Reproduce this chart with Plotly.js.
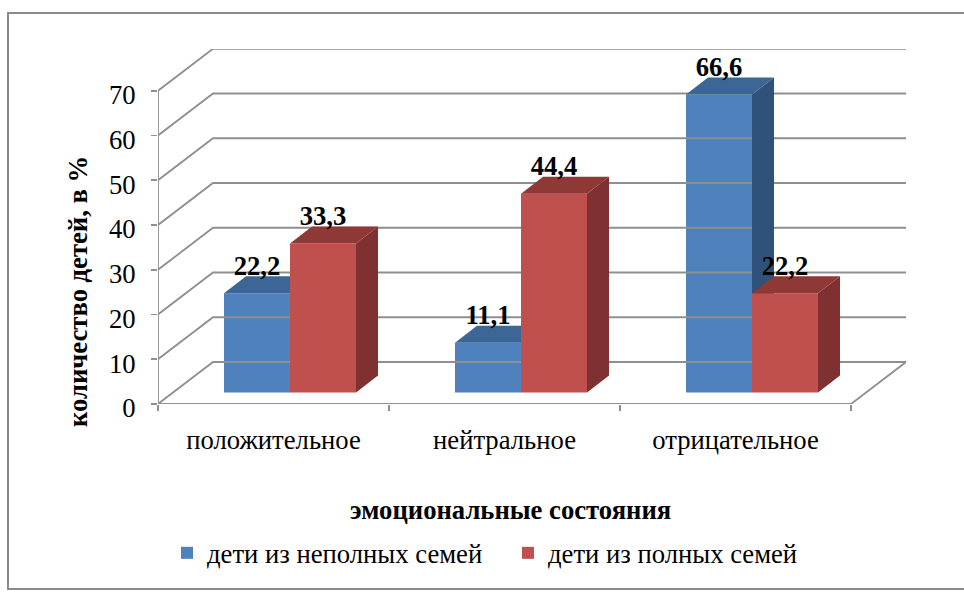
<!DOCTYPE html>
<html><head><meta charset="utf-8">
<script src="https://cdn.plot.ly/plotly-3.0.0.min.js"></script>
<style>html,body{margin:0;padding:0;background:#fff}</style>
</head><body><div id="chart" style="width:964px;height:592px"></div>
<script>
// data
const categories = ["положительное", "нейтральное", "отрицательное"];
const seriesNames = ["дети из неполных семей", "дети из полных семей"];
const incomplete = [22.2, 11.1, 66.6];
const complete = [33.3, 44.4, 22.2];
const yTicks = [0, 10, 20, 30, 40, 50, 60, 70];
const labelsA = ["22,2", "11,1", "66,6"];
const labelsB = ["33,3", "44,4", "22,2"];
const xTitle = "эмоциональные состояния";
const yTitle = "количество детей, в %";
const blue = {front:"#4f81bd", side:"#30527a", top:"#3b6696"};
const red = {front:"#c0504d", side:"#7e3130", top:"#8f3937"};
const gridColor = "#8f8f8f";

// pixel frame of the plot -> scales
const L=158, R=906, T=49, B=404;
const catPx=231, valPx=4.475;
const xMax=(R-L)/catPx, yMax=(B-T)/valPx;
const px=d=>d/catPx, py=d=>d/valPx;
const paperX=p=>(p-L)/(R-L), paperY=p=>(B-p)/(B-T);
// depth
const wallDX=px(55), wallDY=py(42);
const barOffX=px(66), barBase=py(11.5);
const barW=px(66), barDX=px(22), barDY=py(17);
const fontSize=26.67;

const traces=[];
const line=(x,y)=>({type:"scatter",mode:"lines",x,y,xaxis:"x",yaxis:"y",showlegend:false,hoverinfo:"skip",
  line:{color:gridColor,width:1.8},cliponaxis:false});
yTicks.forEach(t=>{
  traces.push(line([0,wallDX,xMax],[t,t+wallDY,t+wallDY]));
});
traces.push(line([0,0],[0,70]));
traces.push(line([0,categories.length,categories.length+wallDX],[0,0,wallDY]));

const xs=(j)=>categories.map((_,i)=>i+barOffX+j*barW+barW/2);
function faces(vals,j,c,xa,ya){
  vals.forEach((v,i)=>{
    const x0=i+barOffX+j*barW, x1=x0+barW, top=barBase+v;
    traces.push({type:"scatter",mode:"lines",fill:"toself",fillcolor:c.side,line:{width:0,color:c.side},showlegend:false,hoverinfo:"skip",xaxis:xa,yaxis:ya,
      x:[x1,x1+barDX,x1+barDX,x1,x1],y:[barBase,barBase+barDY,top+barDY,top,barBase]});
    traces.push({type:"scatter",mode:"lines",fill:"toself",fillcolor:c.top,line:{width:0,color:c.top},showlegend:false,hoverinfo:"skip",xaxis:xa,yaxis:ya,
      x:[x0,x1,x1+barDX,x0+barDX,x0],y:[top,top,top+barDY,top+barDY,top]});
  });
}
traces.push({type:"bar",name:seriesNames[0],x:xs(0),y:incomplete,base:barBase,width:barW,marker:{color:blue.front,line:{width:0}},xaxis:"x",yaxis:"y",hoverinfo:"y"});
faces(incomplete,0,blue,"x","y");
traces.push({type:"bar",name:seriesNames[1],x:xs(1),y:complete,base:barBase,width:barW,marker:{color:red.front,line:{width:0}},xaxis:"x2",yaxis:"y2",hoverinfo:"y"});
faces(complete,1,red,"x2","y2");
const lblY=(vals)=>vals.map(v=>barBase+v+py(25));
[[0,incomplete,labelsA],[1,complete,labelsB]].forEach(([j,vals,labs])=>{
  traces.push({type:"scatter",mode:"text",x:xs(j),y:lblY(vals),text:labs,textposition:"middle center",
    textfont:{family:"Liberation Serif",size:fontSize,color:"#000",weight:700},showlegend:false,hoverinfo:"skip",xaxis:"x2",yaxis:"y2",cliponaxis:false});
});

const layout={
  width:964,height:592,paper_bgcolor:"#fff",plot_bgcolor:"rgba(0,0,0,0)",
  margin:{l:L,r:964-R,t:T,b:592-B,pad:0},
  barmode:"overlay",
  font:{family:"Liberation Serif",color:"#000",size:fontSize},
  xaxis:{range:[0,xMax],tickmode:"array",tickvals:categories.map((_,i)=>i+0.5),ticktext:categories,ticks:"",showgrid:false,zeroline:false,showline:false,
    tickfont:{size:fontSize},fixedrange:true,ticklabelstandoff:17,
    minor:{tickmode:"linear",tick0:0,dtick:1,ticks:"outside",ticklen:6,tickwidth:1.8,tickcolor:gridColor,showgrid:false}},
  yaxis:{range:[0,yMax],tickmode:"array",tickvals:yTicks,ticks:"outside",ticklen:6,tickwidth:1.8,tickcolor:gridColor,showgrid:false,zeroline:false,showline:false,
    tickfont:{size:fontSize},fixedrange:true,ticklabelstandoff:10,ticklabelshift:4},
  xaxis2:{range:[0,xMax],overlaying:"x",visible:false,fixedrange:true},
  yaxis2:{range:[0,yMax],overlaying:"y",visible:false,fixedrange:true},
  legend:{orientation:"h",x:paperX(167),xanchor:"left",y:paperY(553),yanchor:"middle",font:{size:fontSize},entrywidthmode:"pixels",entrywidth:296,traceorder:"normal",bgcolor:"rgba(0,0,0,0)"},
  annotations:[
    {xref:"paper",yref:"paper",x:paperX(510.5),y:paperY(510),text:"<b>"+xTitle+"</b>",showarrow:false,xanchor:"center",yanchor:"middle",font:{size:fontSize}},
    {xref:"paper",yref:"paper",x:paperX(78),y:paperY(292),text:"<b>"+yTitle+"</b>",textangle:-90,showarrow:false,xanchor:"center",yanchor:"middle",font:{size:fontSize}}
  ],
  shapes:[{type:"rect",xref:"paper",yref:"paper",layer:"below",
    x0:paperX(8),x1:paperX(970),y0:paperY(589),y1:paperY(13),line:{color:"#8a8a8a",width:2}}]
};
Plotly.newPlot("chart",traces,layout,{displayModeBar:false,staticPlot:true});
</script></body></html>
